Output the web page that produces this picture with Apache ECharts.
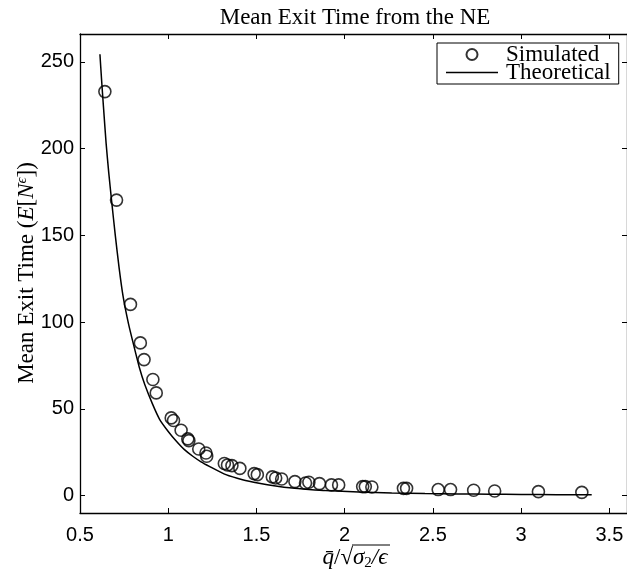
<!DOCTYPE html>
<html><head><meta charset="utf-8">
<script src="https://cdn.jsdelivr.net/npm/echarts@6/dist/echarts.min.js"></script>
<style>html,body{margin:0;padding:0;background:#fff}#c{width:627px;height:571px}</style>
</head><body><div id="c"></div>
<script>
// Simulated mean exit times
const simX = [0.641, 0.707, 0.786, 0.842, 0.863, 0.913, 0.932, 1.017, 1.030, 1.073, 1.111, 1.117, 1.173, 1.214, 1.218,
  1.318, 1.336, 1.361, 1.406, 1.487, 1.505, 1.590, 1.609, 1.643, 1.718, 1.778, 1.797, 1.857, 1.925, 1.966,
  2.102, 2.117, 2.154, 2.333, 2.351, 2.530, 2.600, 2.731, 2.850, 3.098, 3.344];
const simY = [232.8, 170.3, 110.2, 88.0, 78.4, 66.9, 59.2, 44.8, 43.3, 37.7, 32.7, 31.7, 26.9, 24.6, 22.7,
  18.5, 17.7, 17.3, 15.7, 12.7, 12.1, 10.8, 10.2, 9.6, 8.1, 7.3, 7.7, 6.9, 6.2, 6.2,
  5.2, 5.2, 5.0, 4.2, 4.2, 3.5, 3.5, 3.1, 2.7, 2.3, 1.9];
// Theoretical curve
const theoX = [0.613, 0.622, 0.633, 0.648, 0.663, 0.679, 0.700, 0.722, 0.744, 0.775, 0.806, 0.836, 0.867, 0.910, 0.951,
  1.000, 1.045, 1.092, 1.139, 1.186, 1.233, 1.327, 1.421, 1.515, 1.609, 1.703, 1.797, 1.891, 2.079, 2.267, 2.455, 2.643,
  2.820, 3.000, 3.200, 3.400];
const theoY = [254.3, 240, 224, 203, 186, 170, 150, 131, 115, 99, 86, 74, 64, 53, 44,
  37, 31.5, 26.5, 22.7, 19.5, 16.9, 12.1, 9.2, 7.2, 5.6, 4.4, 3.6, 2.9, 2.1, 1.5, 1.2, 1.0,
  0.8, 0.7, 0.55, 0.45];
const xTicks = [0.5, 1, 1.5, 2, 2.5, 3, 3.5];
const yTicks = [0, 50, 100, 150, 200, 250];

const serif = '"Liberation Serif", "Times New Roman", serif';
const sans = '"Liberation Sans", Arial, sans-serif';
const chart = echarts.init(document.getElementById('c'), null, {renderer: 'canvas'});

const axLine = {show: true, onZero: false, lineStyle: {color: '#000', width: 1.3}};
const tick = (vals) => ({show: true, inside: true, length: 5, customValues: vals, lineStyle: {color: '#000', width: 1}});

chart.setOption({
  animation: false,
  backgroundColor: '#fff',
  grid: {left: 80, top: 34, width: 550, height: 479},
  xAxis: [
    {type: 'value', min: 0.5, max: 3.6, position: 'bottom', axisLine: axLine, axisTick: tick(xTicks),
     axisLabel: {customValues: xTicks, color: '#000', fontFamily: sans, fontSize: 20, margin: 12},
     splitLine: {show: false}},
    {type: 'value', min: 0.5, max: 3.6, position: 'top', axisLine: axLine, axisTick: tick(xTicks),
     axisLabel: {show: false}, splitLine: {show: false}}
  ],
  yAxis: [
    {type: 'value', min: -10, max: 266, position: 'left', axisLine: axLine, axisTick: tick(yTicks),
     axisLabel: {customValues: yTicks, color: '#000', fontFamily: sans, fontSize: 20, margin: 6},
     splitLine: {show: false}},
    {type: 'value', min: -10, max: 266, position: 'right', axisLine: axLine, axisTick: tick(yTicks),
     axisLabel: {show: false}, splitLine: {show: false}}
  ],
  legend: {
    orient: 'vertical', left: 437, top: 43,
    backgroundColor: '#fff', borderColor: '#000', borderWidth: 1, borderRadius: 0,
    padding: [0, 8, 0, 9], itemGap: -5, itemWidth: 52, itemHeight: 11,
    textStyle: {fontFamily: serif, fontSize: 23, color: '#000', padding: [0, 0, 0, 3]},
    data: [
      {name: 'Simulated', icon: 'circle'},
      {name: 'Theoretical', icon: 'path://M0,0 H52 V1.5 H0 Z'}
    ]
  },
  series: [
    {name: 'Simulated', type: 'scatter', symbol: 'circle', symbolSize: 12,
     itemStyle: {color: 'rgba(0,0,0,0)', borderColor: '#000', borderWidth: 1.6},
     data: simX.map((x, i) => [x, simY[i]]), z: 3},
    {name: 'Theoretical', type: 'line', showSymbol: false, symbol: 'none', smooth: 0.2,
     lineStyle: {color: '#000', width: 1.5}, itemStyle: {color: '#000'},
     data: theoX.map((x, i) => [x, theoY[i]]), z: 2}
  ],
  graphic: [
    {type: 'text', x: 355, y: 18, style: {text: 'Mean Exit Time from the NE', fontFamily: serif, fontSize: 23,
      fill: '#000', align: 'center', verticalAlign: 'middle'}},
    {type: 'text', x: 27, y: 273, rotation: Math.PI / 2,
     style: {text: '{n|Mean Exit Time (}{i|E}{n|[}{i|N}{s|ϵ}{n|])}', align: 'center', verticalAlign: 'middle',
       rich: {n: {fontFamily: serif, fontSize: 23, fill: '#000'},
              i: {fontFamily: serif, fontSize: 23, fontStyle: 'italic', fill: '#000'},
              s: {fontFamily: serif, fontSize: 15, fontStyle: 'italic', fill: '#000', verticalAlign: 'top', padding: [0, 0, 9, 0]}}}},
    {type: 'text', x: 355, y: 558,
     style: {text: '{i|q̄}{n|/√}{o|σ}{sb|2}{o|/ϵ}', align: 'center', verticalAlign: 'middle',
       rich: {n: {fontFamily: serif, fontSize: 23, fill: '#000'},
              i: {fontFamily: serif, fontSize: 23, fontStyle: 'italic', fill: '#000'},
              o: {fontFamily: serif, fontSize: 23, fontStyle: 'italic', fill: '#000'},
              sb: {fontFamily: serif, fontSize: 15, fill: '#000', padding: [11, 0, 0, 0]}}}},
    {type: 'line', shape: {x1: 352, y1: 545, x2: 390, y2: 545}, style: {stroke: '#000', lineWidth: 1}}
  ]
});
</script>
</body></html>
